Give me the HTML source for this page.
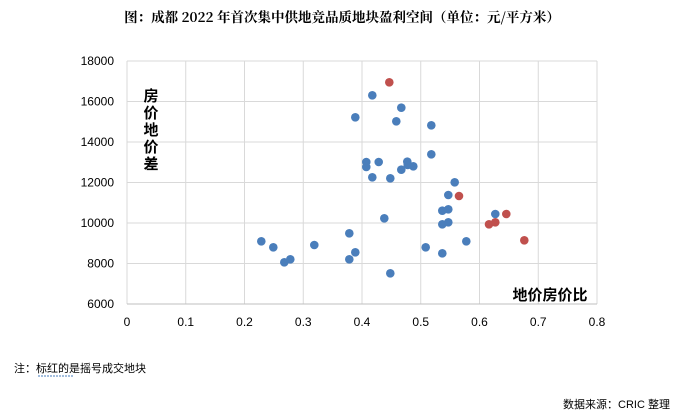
<!DOCTYPE html>
<html><head><meta charset="utf-8"><style>
body{margin:0;background:#fff;}
svg{display:block;font-family:"Liberation Sans","Noto Sans CJK SC",sans-serif;}
</style></head><body>
<svg width="681" height="420" viewBox="0 0 681 420" xmlns="http://www.w3.org/2000/svg">
<rect width="681" height="420" fill="#fff"/>
<text x="342" y="22" text-anchor="middle" font-size="13.5" font-weight="bold" font-family="'Noto Serif CJK SC','Noto Sans CJK SC',serif" fill="#000">图：成都 2022 年首次集中供地竞品质地块盈利空间（单位：元/平方米）</text>
<g stroke="#d9d9d9" stroke-width="1">
<line x1="127" y1="61" x2="597" y2="61"/><line x1="127" y1="101.5" x2="597" y2="101.5"/>
<line x1="127" y1="142" x2="597" y2="142"/><line x1="127" y1="182.5" x2="597" y2="182.5"/>
<line x1="127" y1="223" x2="597" y2="223"/><line x1="127" y1="263.5" x2="597" y2="263.5"/>
<line x1="185.75" y1="61" x2="185.75" y2="304"/><line x1="244.5" y1="61" x2="244.5" y2="304"/>
<line x1="303.25" y1="61" x2="303.25" y2="304"/><line x1="362" y1="61" x2="362" y2="304"/>
<line x1="420.75" y1="61" x2="420.75" y2="304"/><line x1="479.5" y1="61" x2="479.5" y2="304"/>
<line x1="538.25" y1="61" x2="538.25" y2="304"/><line x1="597" y1="61" x2="597" y2="304"/>
<line x1="127" y1="61" x2="127" y2="304"/>
</g>
<line x1="127" y1="304" x2="597" y2="304" stroke="#bfbfbf"/>
<g font-size="12" fill="#000" text-anchor="end">
<text x="114" y="65">18000</text><text x="114" y="105.5">16000</text><text x="114" y="146">14000</text>
<text x="114" y="186.5">12000</text><text x="114" y="227">10000</text><text x="114" y="267.5">8000</text><text x="114" y="308">6000</text>
</g>
<g font-size="12" fill="#000" text-anchor="middle">
<text x="127" y="326">0</text><text x="185.75" y="326">0.1</text><text x="244.5" y="326">0.2</text>
<text x="303.25" y="326">0.3</text><text x="362" y="326">0.4</text><text x="420.75" y="326">0.5</text>
<text x="479.5" y="326">0.6</text><text x="538.25" y="326">0.7</text><text x="597" y="326">0.8</text>
</g>
<g font-size="15" font-weight="bold" fill="#000" text-anchor="middle">
<text x="151" y="101">房</text><text x="151" y="118">价</text><text x="151" y="135">地</text>
<text x="151" y="152">价</text><text x="151" y="169">差</text>
</g>
<text x="550" y="300" font-size="15" font-weight="bold" text-anchor="middle">地价房价比</text>
<g fill="#4a7ebb">
<circle cx="372.3" cy="95.3" r="4.3"/><circle cx="401.3" cy="107.7" r="4.3"/><circle cx="355.3" cy="117.3" r="4.3"/>
<circle cx="396.3" cy="121.3" r="4.3"/><circle cx="431.3" cy="125.3" r="4.3"/><circle cx="431.3" cy="154.3" r="4.3"/>
<circle cx="366.3" cy="162" r="4.3"/><circle cx="366.3" cy="167" r="4.3"/><circle cx="378.7" cy="162" r="4.3"/>
<circle cx="407.3" cy="161.7" r="4.3"/><circle cx="413.3" cy="166.3" r="4.3"/><circle cx="401.3" cy="169.7" r="4.3"/>
<circle cx="407.7" cy="165" r="4.3"/><circle cx="372.3" cy="177.3" r="4.3"/><circle cx="390.3" cy="178.3" r="4.3"/>
<circle cx="454.7" cy="182.3" r="4.3"/><circle cx="448.3" cy="195" r="4.3"/><circle cx="442.3" cy="210.7" r="4.3"/>
<circle cx="448.3" cy="209.3" r="4.3"/><circle cx="384.3" cy="218.3" r="4.3"/><circle cx="495.3" cy="214" r="4.3"/>
<circle cx="442.3" cy="224.3" r="4.3"/><circle cx="448.3" cy="222.3" r="4.3"/><circle cx="261.3" cy="241.3" r="4.3"/>
<circle cx="273.3" cy="247.3" r="4.3"/><circle cx="314.3" cy="245" r="4.3"/><circle cx="349.3" cy="233.3" r="4.3"/>
<circle cx="355.3" cy="252.3" r="4.3"/><circle cx="349.3" cy="259.3" r="4.3"/><circle cx="284.3" cy="262.3" r="4.3"/>
<circle cx="290.3" cy="259.3" r="4.3"/><circle cx="425.7" cy="247.3" r="4.3"/><circle cx="442.3" cy="253.3" r="4.3"/>
<circle cx="466.3" cy="241.3" r="4.3"/><circle cx="390.3" cy="273.3" r="4.3"/>
</g>
<g fill="#c0504d">
<circle cx="389.3" cy="82.3" r="4.3"/><circle cx="459" cy="196" r="4.3"/><circle cx="506.3" cy="214" r="4.3"/>
<circle cx="489" cy="224.3" r="4.3"/><circle cx="495.3" cy="222.3" r="4.3"/><circle cx="524.3" cy="240.3" r="4.3"/>
</g>
<text x="14" y="372" font-size="11" fill="#000">注：标红的是摇号成交地块</text>
<line x1="38" y1="376" x2="74" y2="376" stroke="#4a7ebb" stroke-width="1" stroke-dasharray="2,1"/>
<text x="670" y="408" font-size="11" fill="#000" text-anchor="end">数据来源：CRIC 整理</text>
</svg>
</body></html>
